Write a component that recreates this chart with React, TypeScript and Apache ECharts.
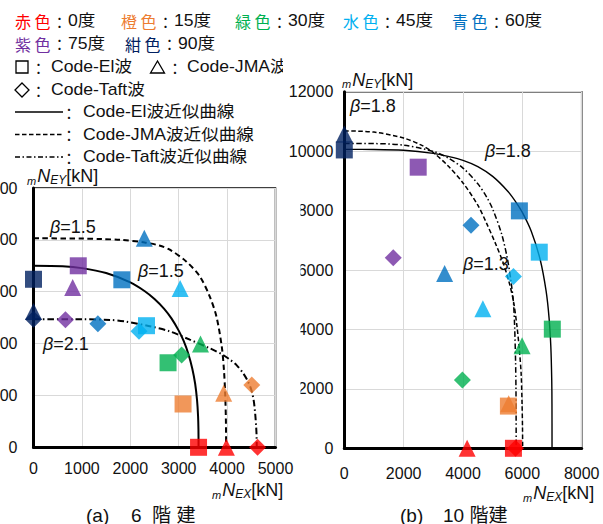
import { useEffect, useRef } from "react";
import * as echarts from "echarts";

// Incidence angles and their colours
const ANGLES = [0, 15, 30, 45, 60, 75, 90];
const ANGLE_COLORS = ["#FF0000", "#ED7D31", "#00B050", "#00B0F0", "#0070C0", "#7030A0", "#002060"];
const ANGLE_NAMES = ["赤 色", "橙 色", "緑 色", "水 色", "青 色", "紫 色", "紺 色"];

// (a) 6-story: response points, one per angle (null = not plotted)
const S6_EL_X = [3410, 3090, 2780, 2335, 1825, 925, 0];
const S6_EL_Y = [0, 835, 1630, 2345, 3230, 3500, 3240];
const S6_JMA_X = [3985, 3930, 3450, 3030, 2290, 810, 0];
const S6_JMA_Y = [0, 1040, 1990, 3060, 4030, 3080, 2620];
const S6_TAFT_X = [4630, 4510, 3060, 2180, 1330, 660, 0];
const S6_TAFT_Y = [0, 1200, 1780, 2240, 2380, 2460, 2470];

// (a) 6-story: approximation curves
const S6_EL_CURVE_X = [0, 600, 1000, 1500, 2000, 2300, 2500, 2700, 2850, 3000, 3100, 3200, 3280, 3340, 3380, 3400, 3408, 3410];
const S6_EL_CURVE_Y = [3500, 3490, 3455, 3360, 3180, 3010, 2860, 2670, 2485, 2250, 2055, 1800, 1520, 1225, 900, 605, 340, 0];
const S6_JMA_CURVE_X = [0, 1000, 1400, 1800, 2300, 2600, 2816, 3160, 3440, 3640, 3780, 3890, 3935, 3960, 3975, 3980];
const S6_JMA_CURVE_Y = [4030, 4025, 4015, 4000, 3950, 3890, 3810, 3580, 3290, 2910, 2520, 1940, 1490, 1040, 530, 0];
const S6_TAFT_CURVE_X = [0, 1000, 1600, 1900, 2400, 2800, 3230, 3640, 3900, 4060, 4200, 4330, 4420, 4500, 4550, 4580, 4600, 4610, 4612];
const S6_TAFT_CURVE_Y = [2470, 2470, 2455, 2425, 2335, 2240, 2075, 1910, 1790, 1690, 1580, 1430, 1290, 1110, 900, 650, 400, 200, 0];

// (b) 10-story: response points
const S10_EL_X = [5700, 5530, 7010, 6570, 5900, 2490, 0];
const S10_EL_Y = [0, 1420, 4010, 6600, 7990, 9460, 10040];
const S10_JMA_X = [4140, 5540, 5990, 4670, 3380, null, 0];
const S10_JMA_Y = [0, 1500, 3450, 4700, 5880, null, 10580];
const S10_TAFT_X = [5770, null, 3980, 5700, 4270, 1650, null];
const S10_TAFT_Y = [0, null, 2300, 5780, 7510, 6410, null];

// (b) 10-story: approximation curves
const S10_EL_CURVE_X = [0, 1000, 2000, 3000, 3500, 4000, 4500, 5000, 5500, 5800, 6000, 6300, 6600, 6800, 6900, 6960, 6990, 6998, 7000];
const S10_EL_CURVE_Y = [10060, 10057, 10030, 9925, 9822, 9690, 9480, 9150, 8660, 8260, 7937, 7303, 6352, 5294, 4389, 3413, 2328, 1490, 0];
const S10_JMA_CURVE_X = [0, 1000, 2000, 2600, 3000, 3500, 4000, 4500, 4800, 5100, 5350, 5550, 5700, 5820, 5900, 5960, 5990, 6005, 6010];
const S10_JMA_CURVE_Y = [10680, 10640, 10440, 10200, 9950, 9500, 8930, 8180, 7560, 6880, 6250, 5600, 4950, 4100, 3300, 2500, 1500, 700, 0];
const S10_TAFT_CURVE_X = [0, 1000, 2000, 3000, 3500, 4000, 4500, 4800, 5000, 5300, 5500, 5620, 5700, 5740, 5770, 5785, 5790, 5792];
const S10_TAFT_CURVE_Y = [10260, 10255, 10200, 9990, 9770, 9430, 8900, 8450, 8050, 7220, 6360, 5600, 4900, 4100, 3000, 2000, 1000, 0];

// Axis ranges and tick steps
const S6_X_MAX = 5000;
const S6_Y_MAX = 5000;
const S6_STEP = 1000;
const S10_X_MAX = 8000;
const S10_Y_MAX = 12000;
const S10_STEP = 2000;

// Exponent labels
const S6_BETAS = ["1.5", "1.5", "2.1"];
const S10_BETAS = ["1.8", "1.8", "1.3"];

const FONT = '"Liberation Sans", "Noto Sans CJK JP", sans-serif';
const CJK = '"Noto Sans CJK JP", sans-serif';
const INK = "#111";

const curve = (xs: number[], ys: number[]) => xs.map((x, i) => [x, ys[i]]);

const markers = (xs: (number | null)[], ys: (number | null)[]) =>
  xs
    .map((x, i) =>
      x === null || ys[i] === null
        ? null
        : { value: [x, ys[i]], itemStyle: { color: ANGLE_COLORS[i] } }
    )
    .filter((d) => d !== null);

const text = (x: number, y: number, t: string, z: number, extra: Record<string, unknown> = {}) => ({
  type: "text",
  x,
  y,
  z,
  silent: true,
  style: {
    text: t,
    fill: INK,
    fontSize: 16,
    lineHeight: 18,
    fontFamily: FONT,
    verticalAlign: "middle",
    ...extra,
  },
});

// full-width colon separator used throughout the key
const colon = (x: number, y: number, z: number) =>
  text(x, y, "：", z, { fontFamily: CJK, align: "center", fontSize: 15, lineHeight: 16 });

const axisTitle = (x: number, y: number, sub: string, z: number) => ({
  type: "text",
  x,
  y,
  z,
  silent: true,
  style: {
    text: `{m|m}{n|N}{s|${sub}}{u|[kN]}`,
    verticalAlign: "middle",
    rich: {
      m: { fontSize: 11, fontStyle: "italic", fontFamily: FONT, fill: INK, verticalAlign: "bottom", lineHeight: 12, padding: [0, 1, 0, 0] },
      n: { fontSize: 18, fontStyle: "italic", fontFamily: FONT, fill: INK, lineHeight: 20 },
      s: { fontSize: 12, fontStyle: "italic", fontFamily: FONT, fill: INK, verticalAlign: "bottom", lineHeight: 12 },
      u: { fontSize: 18, fontFamily: FONT, fill: INK, lineHeight: 20 },
    },
  },
});

const betaLabel = (x: number, y: number, v: string, z: number) => ({
  type: "text",
  x,
  y,
  z,
  silent: true,
  style: {
    text: `{g|β}{t|=${v}}`,
    verticalAlign: "middle",
    rich: {
      g: { fontSize: 18, fontStyle: "italic", fontFamily: FONT, fill: INK },
      t: { fontSize: 18, fontFamily: FONT, fill: INK },
    },
  },
});

function legendElements(z: number) {
  const els: any[] = [];
  const rows = [
    { y: 21, items: [0, 1, 2, 3, 4], xs: [15, 121, 235, 343, 452] },
    { y: 43.5, items: [5, 6], xs: [15, 125] },
  ];
  rows.forEach((row) => {
    row.items.forEach((idx, k) => {
      const x = row.xs[k];
      els.push(text(x, row.y, ANGLE_NAMES[idx], z, { fill: ANGLE_COLORS[idx], fontFamily: CJK }));
      els.push(colon(x + 44.6, row.y, z));
      els.push({ ...text(x + 53, row.y, `${ANGLES[idx]}度`, z), scaleX: 1.1 });
    });
  });
  const sym = { stroke: "#000", lineWidth: 1.3, fill: "none" };
  // marker keys
  els.push({ type: "rect", z, silent: true, shape: { x: 16, y: 61, width: 12, height: 12 }, style: sym });
  els.push(colon(38.5, 67, z));
  els.push({ ...text(51, 67, "Code-El波", z), scaleX: 1.1 });
  els.push({ type: "polygon", z, silent: true, shape: { points: [[157.5, 61], [150.5, 73], [164.5, 73]] }, style: sym });
  els.push(colon(175, 67, z));
  els.push({ ...text(187, 67, "Code-JMA波", z), scaleX: 1.1 });
  els.push({ type: "polygon", z, silent: true, shape: { points: [[22, 83], [29, 90], [22, 97], [15, 90]] }, style: sym });
  els.push(colon(38.5, 90, z));
  els.push({ ...text(51, 90, "Code-Taft波", z), scaleX: 1.1 });
  // curve keys
  const keys = [
    { y: 112, dash: null, label: "Code-El波近似曲線" },
    { y: 134.5, dash: [4.5, 2.5], label: "Code-JMA波近似曲線" },
    { y: 157, dash: [5, 2.5, 1.5, 2.5], label: "Code-Taft波近似曲線" },
  ];
  keys.forEach((k) => {
    els.push({
      type: "line",
      z,
      silent: true,
      shape: { x1: 15, y1: k.y, x2: 63, y2: k.y },
      style: { stroke: "#000", lineWidth: 1.5, lineDash: k.dash ?? undefined },
    });
    els.push(colon(69, k.y, z));
    els.push({ ...text(83, k.y, k.label, z), scaleX: 1.1 });
  });
  return els;
}

function axisPair(
  grid: number,
  xMax: number,
  yMax: number,
  step: number,
  z: number,
  xMargin: number,
  yMargin: number
) {
  const common = {
    gridIndex: grid,
    type: "value",
    min: 0,
    interval: step,
    z,
    axisLine: { show: true, onZero: false, lineStyle: { color: "#000", width: 3 } },
    axisTick: { show: false },
    splitLine: { show: true, lineStyle: { color: "#d9d9d9", width: 1 } },
  };
  const label = { fontSize: 16, color: INK, fontFamily: FONT, formatter: (v: number) => String(v) };
  return {
    x: { ...common, max: xMax, axisLabel: { ...label, margin: xMargin } },
    y: { ...common, max: yMax, axisLabel: { ...label, margin: yMargin } },
  };
}

function buildOption() {
  const a = axisPair(0, S6_X_MAX, S6_Y_MAX, S6_STEP, 7, 13, 16);
  const b = axisPair(1, S10_X_MAX, S10_Y_MAX, S10_STEP, 3, 17, 11);

  const lineSeries = (axis: number, data: number[][], width: number, dash: any, z: number) => ({
    type: "line",
    xAxisIndex: axis,
    yAxisIndex: axis,
    data,
    symbol: "none",
    showSymbol: false,
    smooth: 0.3,
    clip: false,
    silent: true,
    z,
    lineStyle: { color: "#000", width, type: dash },
  });
  const scatter = (axis: number, data: any[], symbol: string, z: number) => ({
    type: "scatter",
    xAxisIndex: axis,
    yAxisIndex: axis,
    data,
    symbol,
    symbolSize: 17,
    clip: false,
    silent: true,
    z,
  });

  return {
    animation: false,
    backgroundColor: "#fff",
    grid: [
      { left: 33.5, top: 188, width: 242, height: 259.3, show: true, borderColor: "#000", borderWidth: 1.5, z: 7, outerBoundsMode: "none", containLabel: false },
      { left: 344.3, top: 91.7, width: 237.4, height: 356.6, show: true, borderColor: "#000", borderWidth: 1.5, z: 3, outerBoundsMode: "none", containLabel: false },
    ],
    xAxis: [a.x, b.x],
    yAxis: [a.y, b.y],
    series: [
      // (b) 10-story
      lineSeries(1, curve(S10_EL_CURVE_X, S10_EL_CURVE_Y), 1.4, "solid", 4),
      lineSeries(1, curve(S10_JMA_CURVE_X, S10_JMA_CURVE_Y), 1.5, [4.5, 2.5], 4),
      lineSeries(1, curve(S10_TAFT_CURVE_X, S10_TAFT_CURVE_Y), 1.5, [5.5, 2.5, 1.5, 2.5], 4),
      scatter(1, markers(S10_JMA_X, S10_JMA_Y), "triangle", 5),
      scatter(1, markers(S10_TAFT_X, S10_TAFT_Y), "diamond", 5),
      scatter(1, markers(S10_EL_X, S10_EL_Y), "rect", 5),
      // (a) 6-story
      lineSeries(0, curve(S6_EL_CURVE_X, S6_EL_CURVE_Y), 2, "solid", 8),
      lineSeries(0, curve(S6_JMA_CURVE_X, S6_JMA_CURVE_Y), 2, [5.5, 3.5], 8),
      lineSeries(0, curve(S6_TAFT_CURVE_X, S6_TAFT_CURVE_Y), 2, [6.5, 3, 1.5, 3], 8),
      scatter(0, markers(S6_JMA_X, S6_JMA_Y), "triangle", 9),
      scatter(0, markers(S6_TAFT_X, S6_TAFT_Y), "diamond", 9),
      scatter(0, markers(S6_EL_X, S6_EL_Y), "rect", 9),
    ],
    graphic: {
      elements: [
        ...legendElements(1),
        // panel (b) backdrop
        { type: "rect", z: 2, silent: true, shape: { x: 283, y: 50, width: 320, height: 474 }, style: { fill: "#fff" } },
        axisTitle(342, 79.5, "EY", 5),
        axisTitle(523, 493, "EX", 5),
        betaLabel(350, 106, S10_BETAS[0], 5),
        betaLabel(485, 151, S10_BETAS[1], 5),
        betaLabel(463, 264, S10_BETAS[2], 5),
        text(400, 515, "(b)", 5, { fontSize: 19, lineHeight: 21 }),
        text(443, 515, "10 階建", 5, { fontSize: 19, lineHeight: 21 }),
        // panel (a) backdrop
        { type: "rect", z: 6, silent: true, shape: { x: 0, y: 190, width: 300.5, height: 334 }, style: { fill: "#fff" } },
        axisTitle(27, 176, "EY", 9),
        axisTitle(212, 490, "EX", 9),
        betaLabel(50, 227, S6_BETAS[0], 9),
        betaLabel(138, 271, S6_BETAS[1], 9),
        betaLabel(43, 344, S6_BETAS[2], 9),
        text(86, 515, "(a)", 9, { fontSize: 19, lineHeight: 21 }),
        text(131, 515, "6  階 建", 9, { fontSize: 19, lineHeight: 21 }),
      ],
    },
  };
}

export default function App() {
  const ref = useRef<HTMLDivElement>(null);
  useEffect(() => {
    const el = ref.current;
    if (!el) return;
    const chart = echarts.init(el, null, { renderer: "svg" });
    chart.setOption(buildOption() as any);
    return () => chart.dispose();
  }, []);
  return (
    <div
      ref={ref}
      style={{ position: "absolute", left: 0, top: 0, width: 603, height: 524, background: "#fff" }}
    />
  );
}
